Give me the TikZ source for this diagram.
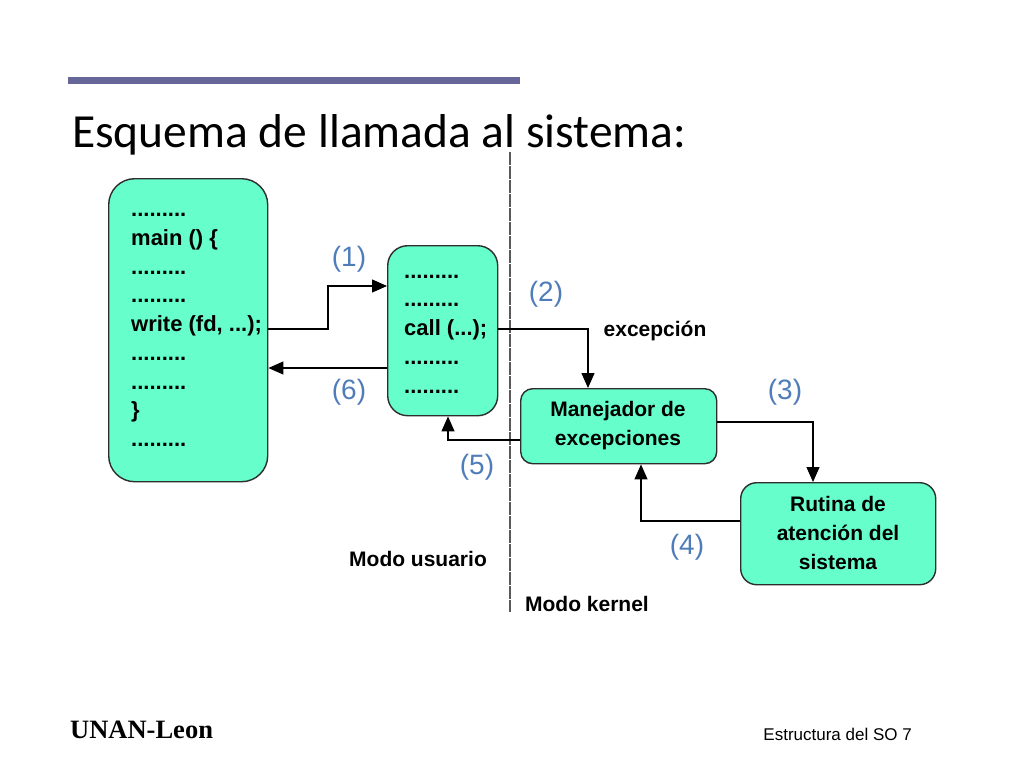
\documentclass[tikz,border=0pt]{standalone}
\usepackage{fontspec}
\usepackage{xcolor}
\usetikzlibrary{arrows.meta}
\setmainfont{Liberation Sans}
\newfontfamily\titlefont{Carlito}
\newfontfamily\footfont{Liberation Serif}
\definecolor{boxAqua}{RGB}{102, 255, 204}
\definecolor{barPurple}{RGB}{102, 102, 153}
\definecolor{labelBlue}{RGB}{79, 125, 185}
\definecolor{edgeGray}{RGB}{45, 45, 45}
\tikzset{
  codebox/.style={draw=edgeGray, fill=boxAqua, rounded corners=20pt, line width=1.4pt, anchor=north west},
  codetxt/.style={font=\fontsize{22}{28.7}\selectfont\bfseries, align=left, inner sep=0pt},
  kerntxt/.style={font=\fontsize{21}{29}\selectfont\bfseries, align=center, inner sep=0pt},
  steplabel/.style={font=\fontsize{28}{30}\selectfont, text=labelBlue},
  flow/.style={line width=1.2pt, -{Triangle[length=15pt,width=13pt]}}
}

\begin{document}
\begin{tikzpicture}[x=1pt, y=-1pt]
                \useasboundingbox[fill=white] (0,0) rectangle (1024,768);
                % cabecera
                \fill[barPurple] (68,77) rectangle (520,84);
                \node[font=\titlefont\fontsize{47.5}{50}\selectfont, anchor=base west, inner sep=0pt] (title) at (72,147) {Esquema de llamada al sistema:};
                % separador usuario / kernel
                \coordinate (sepTop) at (510,152);
                \coordinate (sepBot) at (510,612);
                \draw[gray!70!black, line width=1.2pt, dash pattern=on 13pt off 1pt] (sepTop) -- (sepBot);
                % cajas
                \node[codebox, rounded corners=26pt, minimum width=159, minimum height=303] (prog) at (108,178) {};
                \node[codetxt, anchor=west] (progtxt) at (131,330) {.........\\main () \{\\.........\\.........\\write (fd, ...);\\.........\\.........\\\}\\.........};
                \node[codebox, minimum width=110, minimum height=170] (lib) at (387,245) {};
                \node[codetxt, anchor=west] (libtxt) at (404,334) {.........\\.........\\call (...);\\.........\\.........};
                \node[codebox, rounded corners=12pt, minimum width=196, minimum height=75] (mane) at (520,388) {};
                \node[kerntxt] (manetxt) at (618,426) {Manejador de\\excepciones};
                \node[codebox, rounded corners=16pt, minimum width=195, minimum height=102] (rut) at (740,482) {};
                \node[kerntxt] (ruttxt) at (838,533) {Rutina de\\atención del\\sistema};
                % flechas
                \draw[flow] (prog.east |- 0,329) -| (328,286) -- (lib.west |- 0,286);
                \draw[flow] (lib.west |- 0,368) -- (prog.east |- 0,368);
                \draw[flow] (lib.east |- 0,329) -| (mane.north -| 588,0);
                \draw[flow] (mane.west |- 0,440) -| (lib.south -| 448,0);
                \draw[flow] (mane.east |- 0,422) -| (rut.north -| 813,0);
                \draw[flow] (rut.west |- 0,521) -| (mane.south -| 641,0);
                % etiquetas
                \node[steplabel] (l1) at (349,259) {(1)};
                \node[steplabel] (l2) at (546,294) {(2)};
                \node[steplabel] (l3) at (785,392) {(3)};
                \node[steplabel] (l4) at (687,547) {(4)};
                \node[steplabel] (l5) at (477,467) {(5)};
                \node[steplabel] (l6) at (349,392) {(6)};
                \node[kerntxt] (exc) at (655,331) {excepción};
                \node[kerntxt] (musr) at (418,559) {Modo usuario};
                \node[kerntxt] (mker) at (587,604) {Modo kernel};
                % pie
                \node[font=\footfont\bfseries\fontsize{26.5}{28}\selectfont, anchor=base west, inner sep=0pt] (unan) at (70,738) {UNAN-Leon};
                \node[font=\fontsize{17}{18}\selectfont, anchor=base east, inner sep=0pt] (pie) at (912,740) {Estructura del SO 7};
            \end{tikzpicture}
\end{document}
